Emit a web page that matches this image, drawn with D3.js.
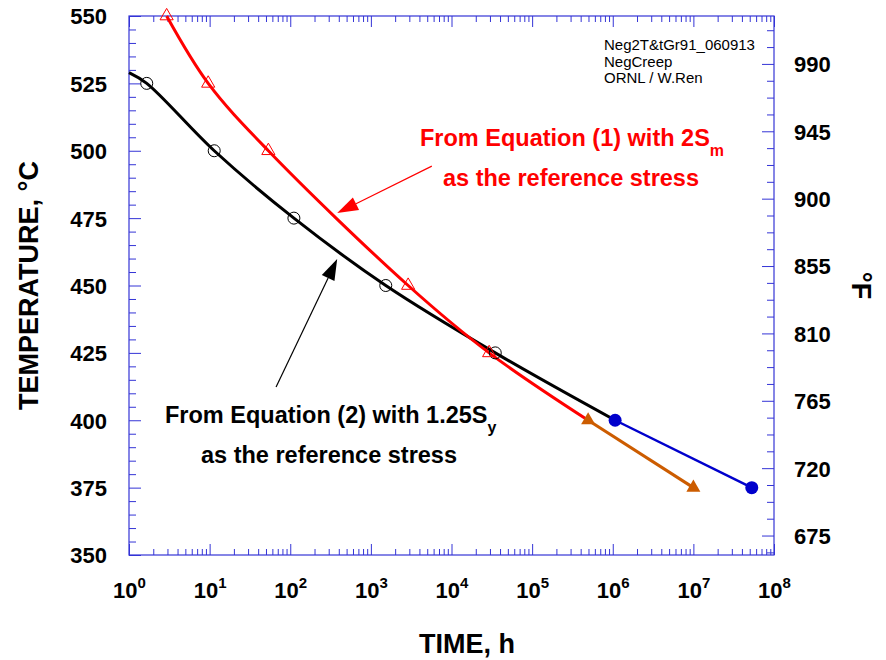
<!DOCTYPE html>
<html>
<head>
<meta charset="utf-8">
<script src="https://cdn.jsdelivr.net/npm/d3@7"></script>
<style>
  html, body { margin: 0; padding: 0; background: #fff; }
  svg { display: block; }
  text { font-family: "Liberation Sans", Arial, Helvetica, sans-serif; }
</style>
</head>
<body>
<svg id="chart" width="886" height="660"></svg>
<script>
// Temperature axis (°C, left) and its Fahrenheit twin (right)
const tempTicks = [350, 375, 400, 425, 450, 475, 500, 525, 550];
const fahrTicks = [675, 720, 765, 810, 855, 900, 945, 990];
// Time axis decades
const timeDecades = [1e0, 1e1, 1e2, 1e3, 1e4, 1e5, 1e6, 1e7, 1e8];

// Equation (2), 1.25Sy reference stress: open circles
const eq2Time = [1.66, 11.4, 111, 1530, 34900];
const eq2Temp = [525, 500, 475, 450, 425];
// Equation (2) fitted curve
const eq2CurveTime = [1, 1.66, 11.4, 111, 1530, 34900, 1.07e6];
const eq2CurveTemp = [529, 525, 500, 475, 450, 425, 400];
// Equation (2) extrapolation: filled blue circles
const eq2ExtTime = [1.07e6, 5.3e7];
const eq2ExtTemp = [400, 375];

// Equation (1), 2Sm reference stress: open triangles
const eq1Time = [2.93, 9.6, 53.5, 2900, 29300];
const eq1Temp = [550, 525, 500, 450, 425];
// Equation (1) fitted curve
const eq1CurveTime = [2.93, 9.6, 53.5, 2900, 29300, 4.95e5];
const eq1CurveTemp = [550, 525, 500, 450, 425, 400];
// Equation (1) extrapolation: filled orange triangles
const eq1ExtTime = [4.95e5, 1e7];
const eq1ExtTemp = [400, 375];

// Annotation arrows: [time, temp] of tail and head
const eq1ArrowTail = [5700, 494.3], eq1ArrowHead = [382, 476.9];
const eq2ArrowTail = [66.7, 412.3], eq2ArrowHead = [382, 459.8];

const W = 886, H = 660;
const m = { left: 129, top: 16, right: 112, bottom: 105 };
const iw = W - m.left - m.right, ih = H - m.top - m.bottom;
const axisBlue = "#3434d6";
const FONT = "'Liberation Sans', Arial, Helvetica, sans-serif";

const svg = d3.select("#chart");
const g = svg.append("g").attr("transform", `translate(${m.left},${m.top})`);

const x = d3.scaleLog().domain([1, 1e8]).range([0, iw]);
const y = d3.scaleLinear().domain([350, 550]).range([ih, 0]);
const yF = d3.scaleLinear().domain([350 * 9 / 5 + 32, 550 * 9 / 5 + 32]).range([ih, 0]);

// minor tick values
const timeMinor = [];
for (let k = 0; k < 8; k++) for (let j = 2; j <= 9; j++) timeMinor.push(j * Math.pow(10, k));
const tempMinor = d3.range(350, 551, 5).filter(v => v % 25 !== 0);
const fahrMinor = [];
for (let f = 675 - 11.25; f <= 1022; f += 11.25) if ((f - 675) % 45 !== 0) fahrMinor.push(f);

function styleAxis(sel) {
  sel.select(".domain").remove();
  sel.selectAll(".tick line").attr("stroke", axisBlue).attr("stroke-width", 1);
  sel.selectAll(".tick text")
    .attr("fill", "#000").style("font-family", FONT)
    .style("font-weight", "bold").style("font-size", "22px");
}

// Left axis
g.append("g").call(d3.axisLeft(y).tickValues(tempTicks).tickSizeInner(-12).tickSizeOuter(0).tickPadding(22))
  .call(styleAxis).selectAll(".tick text").attr("dy", "0.36em");
g.append("g").call(d3.axisLeft(y).tickValues(tempMinor).tickSizeInner(-7).tickSizeOuter(0).tickFormat(""))
  .call(styleAxis);

// Right axis (°F)
g.append("g").attr("transform", `translate(${iw},0)`)
  .call(d3.axisRight(yF).tickValues(fahrTicks).tickSizeInner(-12).tickSizeOuter(0).tickPadding(20))
  .call(styleAxis).selectAll(".tick text").attr("dy", "0.36em");
g.append("g").attr("transform", `translate(${iw},0)`)
  .call(d3.axisRight(yF).tickValues(fahrMinor).tickSizeInner(-7).tickSizeOuter(0).tickFormat(""))
  .call(styleAxis);

// Bottom axis with power-of-ten labels
const bottom = g.append("g").attr("transform", `translate(0,${ih})`)
  .call(d3.axisBottom(x).tickValues(timeDecades).tickSizeInner(-11).tickSizeOuter(0).tickPadding(28).tickFormat(""))
  .call(styleAxis);
bottom.selectAll(".tick text").each(function (d) {
  const t = d3.select(this).attr("dy", null).attr("y", 43).attr("text-anchor", "middle");
  t.append("tspan").text("10");
  t.append("tspan").attr("dy", -10).style("font-size", "15px").text(Math.round(Math.log10(d)));
});
g.append("g").attr("transform", `translate(0,${ih})`)
  .call(d3.axisBottom(x).tickValues(timeMinor).tickSizeInner(-6).tickSizeOuter(0).tickFormat(""))
  .call(styleAxis);

// Top axis mirrors the bottom ticks
g.append("g").call(d3.axisTop(x).tickValues(timeDecades).tickSizeInner(-11).tickSizeOuter(0).tickFormat(""))
  .call(styleAxis);
g.append("g").call(d3.axisTop(x).tickValues(timeMinor).tickSizeInner(-6).tickSizeOuter(0).tickFormat(""))
  .call(styleAxis);

// Frame
g.append("rect").attr("x", 0).attr("y", 0).attr("width", iw).attr("height", ih)
  .attr("fill", "none").attr("stroke", axisBlue).attr("stroke-width", 1.2);

// Curves
const line = d3.line().x(d => x(d[0])).y(d => y(d[1])).curve(d3.curveCatmullRom.alpha(0.5));
const zip = (a, b) => a.map((v, i) => [v, b[i]]);

g.append("path").datum(zip(eq2CurveTime, eq2CurveTemp))
  .attr("d", line).attr("fill", "none").attr("stroke", "#000").attr("stroke-width", 3);
g.append("path").datum(zip(eq1CurveTime, eq1CurveTemp))
  .attr("d", line).attr("fill", "none").attr("stroke", "#ff0000").attr("stroke-width", 3);
g.append("path").datum(zip(eq2ExtTime, eq2ExtTemp))
  .attr("d", d3.line().x(d => x(d[0])).y(d => y(d[1])))
  .attr("fill", "none").attr("stroke", "#0000cc").attr("stroke-width", 2.5);
g.append("path").datum(zip(eq1ExtTime, eq1ExtTemp))
  .attr("d", d3.line().x(d => x(d[0])).y(d => y(d[1])))
  .attr("fill", "none").attr("stroke", "#cc5c00").attr("stroke-width", 3);

// Markers
const tri = d3.symbol(d3.symbolTriangle, 75);
g.selectAll(".eq2pt").data(zip(eq2Time, eq2Temp)).join("circle")
  .attr("cx", d => x(d[0])).attr("cy", d => y(d[1])).attr("r", 6)
  .attr("fill", "none").attr("stroke", "#000").attr("stroke-width", 1);
g.selectAll(".eq1pt").data(zip(eq1Time, eq1Temp)).join("path")
  .attr("d", tri).attr("transform", d => `translate(${x(d[0])},${y(d[1])})`)
  .attr("fill", "none").attr("stroke", "#ff0000").attr("stroke-width", 1);
g.selectAll(".eq2ext").data(zip(eq2ExtTime, eq2ExtTemp)).join("circle")
  .attr("cx", d => x(d[0])).attr("cy", d => y(d[1])).attr("r", 6.5)
  .attr("fill", "#0000cc");
g.selectAll(".eq1ext").data(zip(eq1ExtTime, eq1ExtTemp)).join("path")
  .attr("d", d3.symbol(d3.symbolTriangle, 85)).attr("transform", d => `translate(${x(d[0])},${y(d[1])})`)
  .attr("fill", "#cc5c00");

// Arrows
function arrow(tail, head, color, headLen, headW) {
  const x1 = x(tail[0]), y1 = y(tail[1]), x2 = x(head[0]), y2 = y(head[1]);
  const a = Math.atan2(y2 - y1, x2 - x1);
  const bx = x2 - headLen * Math.cos(a), by = y2 - headLen * Math.sin(a);
  const px = -Math.sin(a) * headW / 2, py = Math.cos(a) * headW / 2;
  g.append("line").attr("x1", x1).attr("y1", y1).attr("x2", bx).attr("y2", by)
    .attr("stroke", color).attr("stroke-width", 1.2);
  g.append("path")
    .attr("d", `M${x2},${y2}L${bx + px},${by + py}L${bx - px},${by - py}Z`)
    .attr("fill", color);
}
arrow(eq1ArrowTail, eq1ArrowHead, "#ff0000", 21, 14);
arrow(eq2ArrowTail, eq2ArrowHead, "#000", 21, 14);

// Annotation texts
function label(xp, yp, main, sub, color, anchor) {
  const t = svg.append("text").attr("x", xp).attr("y", yp).attr("fill", color)
    .attr("text-anchor", anchor || "start")
    .style("font-weight", "bold").style("font-size", "23.5px");
  t.append("tspan").text(main);
  if (sub) t.append("tspan").attr("dy", 10).style("font-size", "16px").text(sub);
  return t;
}
label(420, 146, "From Equation (1) with 2S", "m", "#ff0000");
label(571, 186, "as the reference stress", null, "#ff0000", "middle");
label(165, 423, "From Equation (2) with 1.25S", "y", "#000");
label(329, 463, "as the reference stress", null, "#000", "middle");

// File tag
const tag = svg.append("text").attr("x", 604).attr("y", 50).attr("fill", "#000")
  .style("font-size", "15px");
["Neg2T&tGr91_060913", "NegCreep", "ORNL / W.Ren"].forEach((s, i) => {
  tag.append("tspan").attr("x", 604).attr("dy", i === 0 ? 0 : 16.5).text(s);
});

// Axis titles
svg.append("text").attr("transform", `translate(38,${m.top + ih / 2}) rotate(-90)`)
  .attr("text-anchor", "middle").style("font-weight", "bold").style("font-size", "27px")
  .text("TEMPERATURE, °C");
svg.append("text").attr("transform", `translate(852,${m.top + ih / 2}) rotate(90)`)
  .attr("text-anchor", "middle").style("font-weight", "bold").style("font-size", "27px")
  .text("°F");
svg.append("text").attr("x", 467).attr("y", 653)
  .attr("text-anchor", "middle").style("font-weight", "bold").style("font-size", "27px")
  .text("TIME, h");
</script>
</body>
</html>
